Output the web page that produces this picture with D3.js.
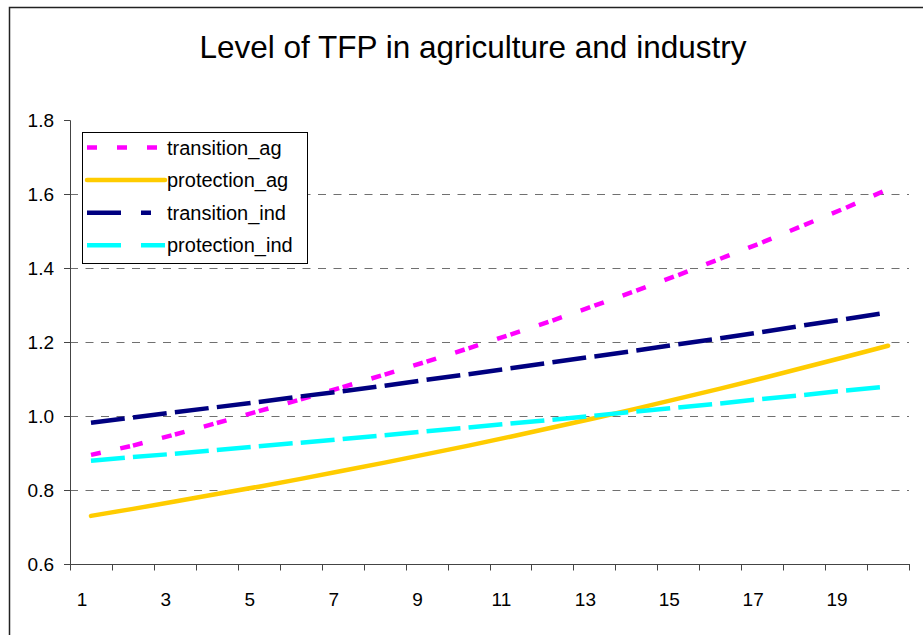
<!DOCTYPE html>
<html>
<head>
<meta charset="utf-8">
<script src="https://cdn.jsdelivr.net/npm/d3@7"></script>
<style>
  body { margin: 0; background: #fff; }
  svg text { font-family: "Liberation Sans", Arial, sans-serif; fill: #000; }
</style>
</head>
<body>
<svg id="chart" width="923" height="635"></svg>
<script>

// data
var periods = d3.range(1, 21);
var xTickLabels = [1, 3, 5, 7, 9, 11, 13, 15, 17, 19];
var yTicks = [0.6, 0.8, 1.0, 1.2, 1.4, 1.6, 1.8];
var yGrid = [0.8, 1.0, 1.2, 1.4, 1.6];

var transition_ag  = [0.895, 0.920, 0.950, 0.981, 1.013, 1.045, 1.078, 1.112, 1.147, 1.183,
                      1.220, 1.258, 1.298, 1.339, 1.381, 1.425, 1.469, 1.516, 1.563, 1.613];
var protection_ag  = [0.730, 0.749, 0.769, 0.789, 0.809, 0.830, 0.852, 0.874, 0.897, 0.920,
                      0.944, 0.969, 0.994, 1.020, 1.047, 1.074, 1.102, 1.131, 1.160, 1.190];
var transition_ind = [0.982, 0.996, 1.010, 1.024, 1.038, 1.053, 1.067, 1.082, 1.098, 1.113,
                      1.129, 1.145, 1.161, 1.177, 1.194, 1.210, 1.227, 1.245, 1.262, 1.280];
var protection_ind = [0.879, 0.889, 0.898, 0.908, 0.918, 0.928, 0.938, 0.948, 0.959, 0.969,
                      0.980, 0.990, 1.001, 1.012, 1.023, 1.034, 1.046, 1.057, 1.069, 1.080];

var series = [
    {name: "transition_ag",  values: transition_ag,  color: "#ff00ff", dash: "10,20"},
    {name: "protection_ag",  values: protection_ag,  color: "#ffcc00", dash: null},
    {name: "transition_ind", values: transition_ind, color: "#000080", dash: "34,20,10,20"},
    {name: "protection_ind", values: protection_ind, color: "#00ffff", dash: "34,20"}
];

var svg = d3.select("#chart");

// chart frame
svg.append("rect")
    .attr("x", 9.5).attr("y", 7.5)
    .attr("width", 940).attr("height", 640)
    .attr("fill", "none")
    .attr("stroke", "#222")
    .attr("stroke-width", 1.5);

svg.append("text")
    .attr("x", 473).attr("y", 58)
    .attr("text-anchor", "middle")
    .style("font-size", "31.5px")
    .text("Level of TFP in agriculture and industry");

var plotLeft = 70, plotRight = 909, plotTop = 120, plotBottom = 564;

var x = d3.scaleBand().domain(periods).range([plotLeft, plotRight]);
var y = d3.scaleLinear().domain([0.6, 1.8]).range([plotBottom, plotTop]);

function cx(i) { return x(periods[i]) + x.bandwidth() / 2; }

// grid
svg.append("g").selectAll("line")
    .data(yGrid)
    .enter().append("line")
    .attr("x1", plotLeft).attr("x2", plotRight)
    .attr("y1", function(d) { return Math.round(y(d)) + 0.5; })
    .attr("y2", function(d) { return Math.round(y(d)) + 0.5; })
    .attr("stroke", "#707070")
    .attr("stroke-width", 1)
    .attr("stroke-dasharray", "8,7.5");

// y axis
var yAxis = d3.axisLeft(y).tickValues(yTicks).tickSize(6).tickPadding(10)
    .tickFormat(d3.format(".1f"));
var gy = svg.append("g")
    .attr("transform", "translate(" + plotLeft + ",0)")
    .call(yAxis);
gy.attr("font-family", null).attr("font-size", null);
gy.select(".domain").attr("stroke", "#444");
gy.selectAll(".tick line").attr("stroke", "#444");
gy.selectAll("text").style("font-size", "19px");

// x axis, labels every second period, tick marks between categories
var xAxis = d3.axisBottom(x).tickValues(xTickLabels).tickSize(0).tickPadding(29);
var gx = svg.append("g")
    .attr("transform", "translate(0," + plotBottom + ")")
    .call(xAxis);
gx.attr("font-family", null).attr("font-size", null);
gx.select(".domain").attr("stroke", "#444").attr("d", "M" + plotLeft + ",0.5H" + plotRight);
gx.selectAll("text").style("font-size", "19px").attr("dx", -9);

gx.selectAll(".boundary")
    .data(d3.range(periods.length + 1))
    .enter().append("line")
    .attr("x1", function(i) { return Math.round(plotLeft + i * x.step()) + 0.5; })
    .attr("x2", function(i) { return Math.round(plotLeft + i * x.step()) + 0.5; })
    .attr("y1", 0).attr("y2", 6.5)
    .attr("stroke", "#444");

// lines: dashed ones restart the pattern on every segment
var lineGen = d3.line()
    .x(function(d, i) { return cx(i); })
    .y(function(d) { return y(d); });

series.forEach(function(s) {
    if (s.dash == null) {
        svg.append("path")
            .datum(s.values)
            .attr("d", lineGen)
            .attr("fill", "none")
            .attr("stroke", s.color)
            .attr("stroke-width", 4.5)
            .attr("stroke-linecap", "round")
            .attr("stroke-linejoin", "round");
    } else {
        svg.append("g").selectAll("line")
            .data(d3.range(s.values.length - 1))
            .enter().append("line")
            .attr("x1", function(i) { return cx(i); })
            .attr("y1", function(i) { return y(s.values[i]); })
            .attr("x2", function(i) { return cx(i + 1); })
            .attr("y2", function(i) { return y(s.values[i + 1]); })
            .attr("stroke", s.color)
            .attr("stroke-width", 4.5)
            .attr("stroke-dasharray", s.dash);
    }
});

// legend
var legend = svg.append("g");
legend.append("rect")
    .attr("x", 82.5).attr("y", 132.5)
    .attr("width", 225).attr("height", 131)
    .attr("fill", "#fff")
    .attr("stroke", "#000");

var rows = legend.selectAll(".row")
    .data(series)
    .enter().append("g")
    .attr("transform", function(d, i) { return "translate(0," + (147.5 + i * 32.6) + ")"; });

rows.append("line")
    .attr("x1", 87).attr("x2", 165)
    .attr("stroke", function(d) { return d.color; })
    .attr("stroke-width", 4.5)
    .attr("stroke-linecap", function(d) { return d.dash ? "butt" : "round"; })
    .attr("stroke-dasharray", function(d) { return d.dash; });

rows.append("text")
    .attr("x", 167).attr("dy", "0.35em")
    .style("font-size", "20px")
    .text(function(d) { return d.name; });

</script>
</body>
</html>
